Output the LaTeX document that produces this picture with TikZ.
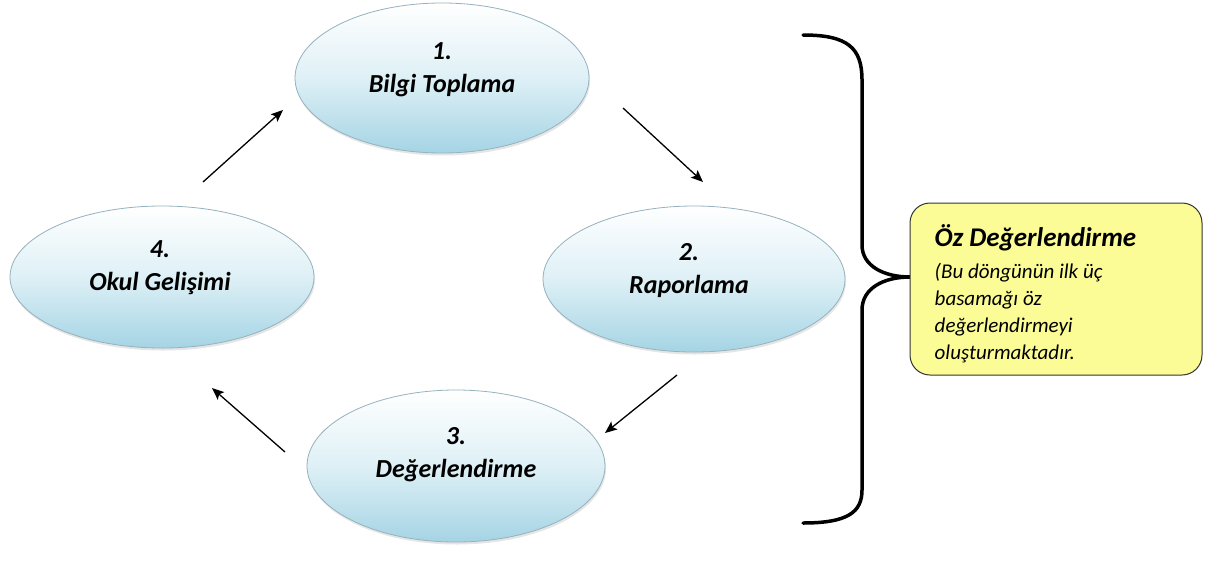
\documentclass[tikz,border=0pt]{standalone}
\usepackage{fontspec}
\setmainfont{Carlito}
\usetikzlibrary{shapes.geometric,arrows.meta,shadows}
\definecolor{ellblue}{RGB}{165,212,228}
\definecolor{ellmid}{RGB}{222,240,246}
\definecolor{ellline}{RGB}{150,178,190}
\definecolor{boxyellow}{RGB}{252,252,150}
\begin{document}
\begin{tikzpicture}[x=1pt,y=-1pt,
  ell/.style={ellipse, draw=ellline, line width=0.8pt, top color=white, bottom color=ellblue,
    middle color=ellmid,
    inner sep=0pt, drop shadow={shadow xshift=1pt, shadow yshift=-2.5pt, opacity=0.2}},
  lbl/.style={align=center, font=\fontsize{26}{33}\selectfont\bfseries\itshape, inner sep=0pt},
  arr/.style={line width=1.3pt, -{Stealth[length=12pt,width=10pt,inset=2.5pt]}},
  ybox/.style={draw=black!80, line width=1pt, fill=boxyellow, rounded corners=20pt,
    minimum width=292pt, minimum height=172pt, inner sep=0pt},
  brace/.style={line width=3.5pt, line cap=round, line join=round}]
\useasboundingbox[fill=white] (0,0) rectangle (1222,560);

% ellipses
\node[ell, minimum width=294pt, minimum height=150pt] (e1) at (442,78) {};
\node[ell, minimum width=302pt, minimum height=146pt] (e2) at (694,279) {};
\node[ell, minimum width=298pt, minimum height=152pt] (e3) at (456,466) {};
\node[ell, minimum width=304pt, minimum height=142pt] (e4) at (162,277) {};

\node[lbl] (t1) at (442,70) {1.\\Bilgi Toplama};
\node[lbl] (t2) at (689,271) {2.\\Raporlama};
\node[lbl] (t3) at (456,455) {3.\\Değerlendirme};
\node[lbl] (t4) at (160,268) {4.\\Okul Gelişimi};

% arrows
\coordinate (a1s) at (203,182); \coordinate (a1e) at (283,110);
\coordinate (a2s) at (623,108); \coordinate (a2e) at (703,182);
\coordinate (a3s) at (677,375); \coordinate (a3e) at (605,433);
\coordinate (a4s) at (285,452); \coordinate (a4e) at (212,388);
\draw[arr] (a1s) -- (a1e);
\draw[arr] (a2s) -- (a2e);
\draw[arr] (a3s) -- (a3e);
\draw[arr] (a4s) -- (a4e);

% brace
\coordinate (btop) at (803,35);
\coordinate (btip) at (910,277);
\coordinate (bbot) at (803,523);
\draw[brace] (btop) .. controls (848,35) and (862,48) .. (862,80)
  -- (862,245) .. controls (862,266) and (884,277) .. (btip)
  .. controls (884,277) and (862,288) .. (862,310)
  -- (862,490) .. controls (862,512) and (848,523) .. (bbot);

% yellow box
\node[ybox] (box) at (1056,289) {};
\node[anchor=north west, inner sep=0pt, align=left,
  font=\fontsize{21}{27}\selectfont\itshape] (boxtext) at ([xshift=25pt,yshift=-22pt]box.north west)
  {{\fontsize{27}{27}\selectfont\bfseries Öz Değerlendirme}\\[5pt]
   (Bu döngünün ilk üç\\
   basamağı öz\\
   değerlendirmeyi\\
   oluşturmaktadır.};
\end{tikzpicture}
\end{document}
